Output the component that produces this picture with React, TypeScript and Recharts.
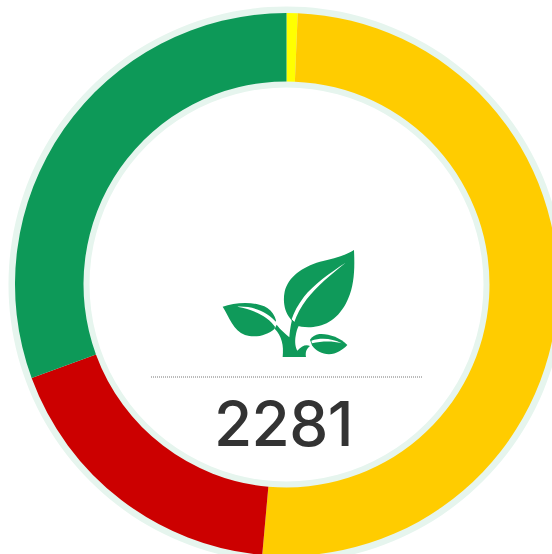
import React from "react";
import { PieChart, Pie, Cell } from "recharts";

const labels = ["Yellow", "Amber", "Red", "Green"];
const values = [15, 1158, 410, 698];
const colors = ["#ffff00", "#ffcc00", "#cc0000", "#0d9958"];
const total = ["2281"];
const data = labels.map((name, i) => ({ name, value: values[i] }));
const halo = [{ name: "halo", value: 1 }];

const CX = 286.5;
const CY = 284.5;
const GREEN = "#0f9a5a";

export default function App() {
  return (
    <div style={{ position: "absolute", left: 0, top: 0, width: 552, height: 554, overflow: "hidden", background: "#fff" }}>
      <PieChart width={552} height={554} margin={{ top: 0, right: 0, bottom: 0, left: 0 }}>
        <Pie
          data={halo}
          dataKey="value"
          cx={CX}
          cy={CY}
          innerRadius={197}
          outerRadius={278}
          startAngle={90}
          endAngle={-270}
          stroke="none"
          fill="#e6f5ee"
          isAnimationActive={false}
        />
        <Pie
          data={data}
          dataKey="value"
          cx={CX}
          cy={CY}
          innerRadius={203}
          outerRadius={271.5}
          startAngle={90}
          endAngle={-270}
          stroke="none"
          isAnimationActive={false}
        >
          {data.map((d, i) => (
            <Cell key={d.name} fill={colors[i]} />
          ))}
        </Pie>
        <g transform="translate(180,230) scale(0.3333)">
          <path
            fill={GREEN}
            d="M522 60 C525 120 522 165 505 205 C485 255 445 288 400 291 C380 293 362 291 345 285 L330 265 C314 245 308 215 314 185 C325 140 365 112 420 95 C460 85 495 78 522 60 Z"
          />
          <path
            fill="#fff"
            d="M497 98 C450 128 400 165 372 200 C354 224 342 246 335 268 L343 276 C350 256 362 232 380 208 C408 170 455 132 497 98 Z"
          />
          <path
            fill={GREEN}
            d="M128 230 C165 217 225 212 262 234 C276 243 284 256 288 271 L284 296 C262 316 225 325 195 315 C160 302 148 262 128 230 Z"
          />
          <path
            fill="#fff"
            d="M172 230 C215 228 262 242 292 280 L286 292 C268 262 225 240 172 230 Z"
          />
          <path
            fill={GREEN}
            d="M502 345 C480 322 445 310 418 312 C405 314 397 320 390 329 L396 346 C412 370 448 382 478 364 C488 358 496 352 502 345 Z"
          />
          <path
            fill="#fff"
            d="M394 332 C425 322 458 326 485 340 C455 332 425 334 396 340 Z"
          />
          <path
            fill={GREEN}
            d="M284 296 C305 318 312 345 308 381 L378 381 C376 368 378 358 390 348 C378 342 364 348 352 362 C346 352 344 335 347 318 C349 305 352 295 356 288 L336 270 C331 290 329 308 328 322 C315 310 302 300 290 284 Z"
          />
        </g>
        <line x1={151} y1={377} x2={422} y2={377} stroke="#777" strokeWidth={1} strokeDasharray="1 1" />
        <text
          x={283.5}
          y={446}
          textAnchor="middle"
          fontFamily="Inter, Lato, sans-serif"
          fontSize={62}
          fontWeight={500}
          letterSpacing={-0.5}
          fill="#333333"
        >
          {total[0]}
        </text>
      </PieChart>
    </div>
  );
}
